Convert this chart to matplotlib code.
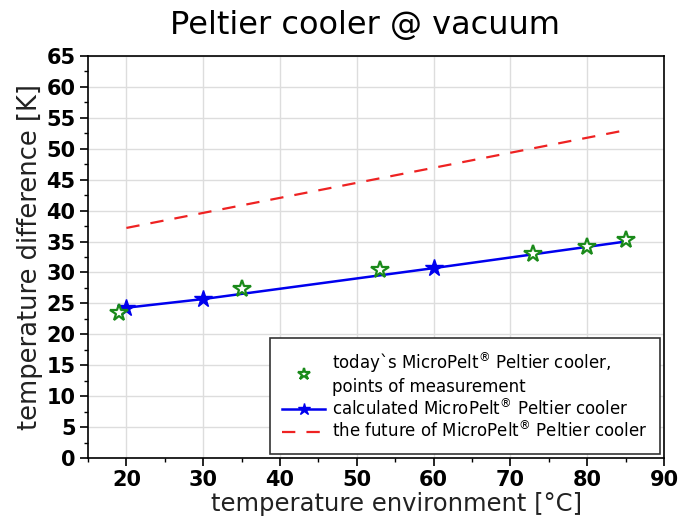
import matplotlib
matplotlib.use("Agg")
import matplotlib.pyplot as plt
from matplotlib.ticker import MultipleLocator

# measured points (today's cooler)
meas_x = [19, 35, 53, 73, 80, 85]
meas_y = [23.5, 27.4, 30.4, 33.0, 34.1, 35.2]

# calculated cooler
calc_x = [20, 30, 60, 85]
calc_y = [24.3, 25.7, 30.7, 35.0]

# future cooler
fut_x = [20, 85]
fut_y = [37.2, 53.0]

fig = plt.figure(figsize=(6.96, 5.21), dpi=100)
ax = fig.add_axes([88/696, 1 - 458/521, (664-88)/696, (458-56)/521])

ax.plot(calc_x, calc_y, '-', color='#0000ee', lw=1.8, marker='*', ms=13,
        markevery=[0, 1, 2], label='calculated MicroPelt$^{®}$ Peltier cooler', zorder=3)
ax.plot(meas_x, meas_y, linestyle='none', marker='*', ms=13, mfc='white',
        mec='#1a8a1a', mew=1.6, label='today`s MicroPelt$^{®}$ Peltier cooler,\npoints of measurement', zorder=4)
ax.plot(fut_x, fut_y, '--', color='#ee2222', lw=1.6, dashes=(6, 5),
        label='the future of MicroPelt$^{®}$ Peltier cooler', zorder=2)

ax.set_xlim(15, 90)
ax.set_ylim(0, 65)
ax.xaxis.set_major_locator(MultipleLocator(10))
ax.xaxis.set_minor_locator(MultipleLocator(5))
ax.yaxis.set_major_locator(MultipleLocator(5))
ax.yaxis.set_minor_locator(MultipleLocator(2.5))
ax.grid(True, which='major', color='#dddddd', lw=1)
ax.set_axisbelow(True)
ax.tick_params(which='major', direction='out', length=6, width=1.2, labelsize=15, pad=3)
ax.tick_params(which='minor', direction='out', length=3, width=1.0)
for lbl in ax.get_xticklabels() + ax.get_yticklabels():
    lbl.set_fontweight('bold')
for s in ax.spines.values():
    s.set_linewidth(1.2)

ax.set_xlabel('temperature environment [°C]', fontsize=17.5, color='#222222')
ax.xaxis.set_label_coords(0.535, -0.085)
ax.set_ylabel('temperature difference [K]', fontsize=18.5, labelpad=2, color='#222222')
fig.suptitle('Peltier cooler @ vacuum', fontsize=23, y=0.98, x=0.525)

h, l = ax.get_legend_handles_labels()
leg = ax.legend([h[1], h[0], h[2]], [l[1], l[0], l[2]], loc='lower right',
                fontsize=12, fancybox=False, edgecolor='#333333', framealpha=1,
                handlelength=2.6, handletextpad=0.4, markerscale=0.7,
                borderpad=0.75, borderaxespad=0.25, labelspacing=0.12)
leg.get_frame().set_linewidth(1.2)

fig.savefig('out.png', dpi=100)
